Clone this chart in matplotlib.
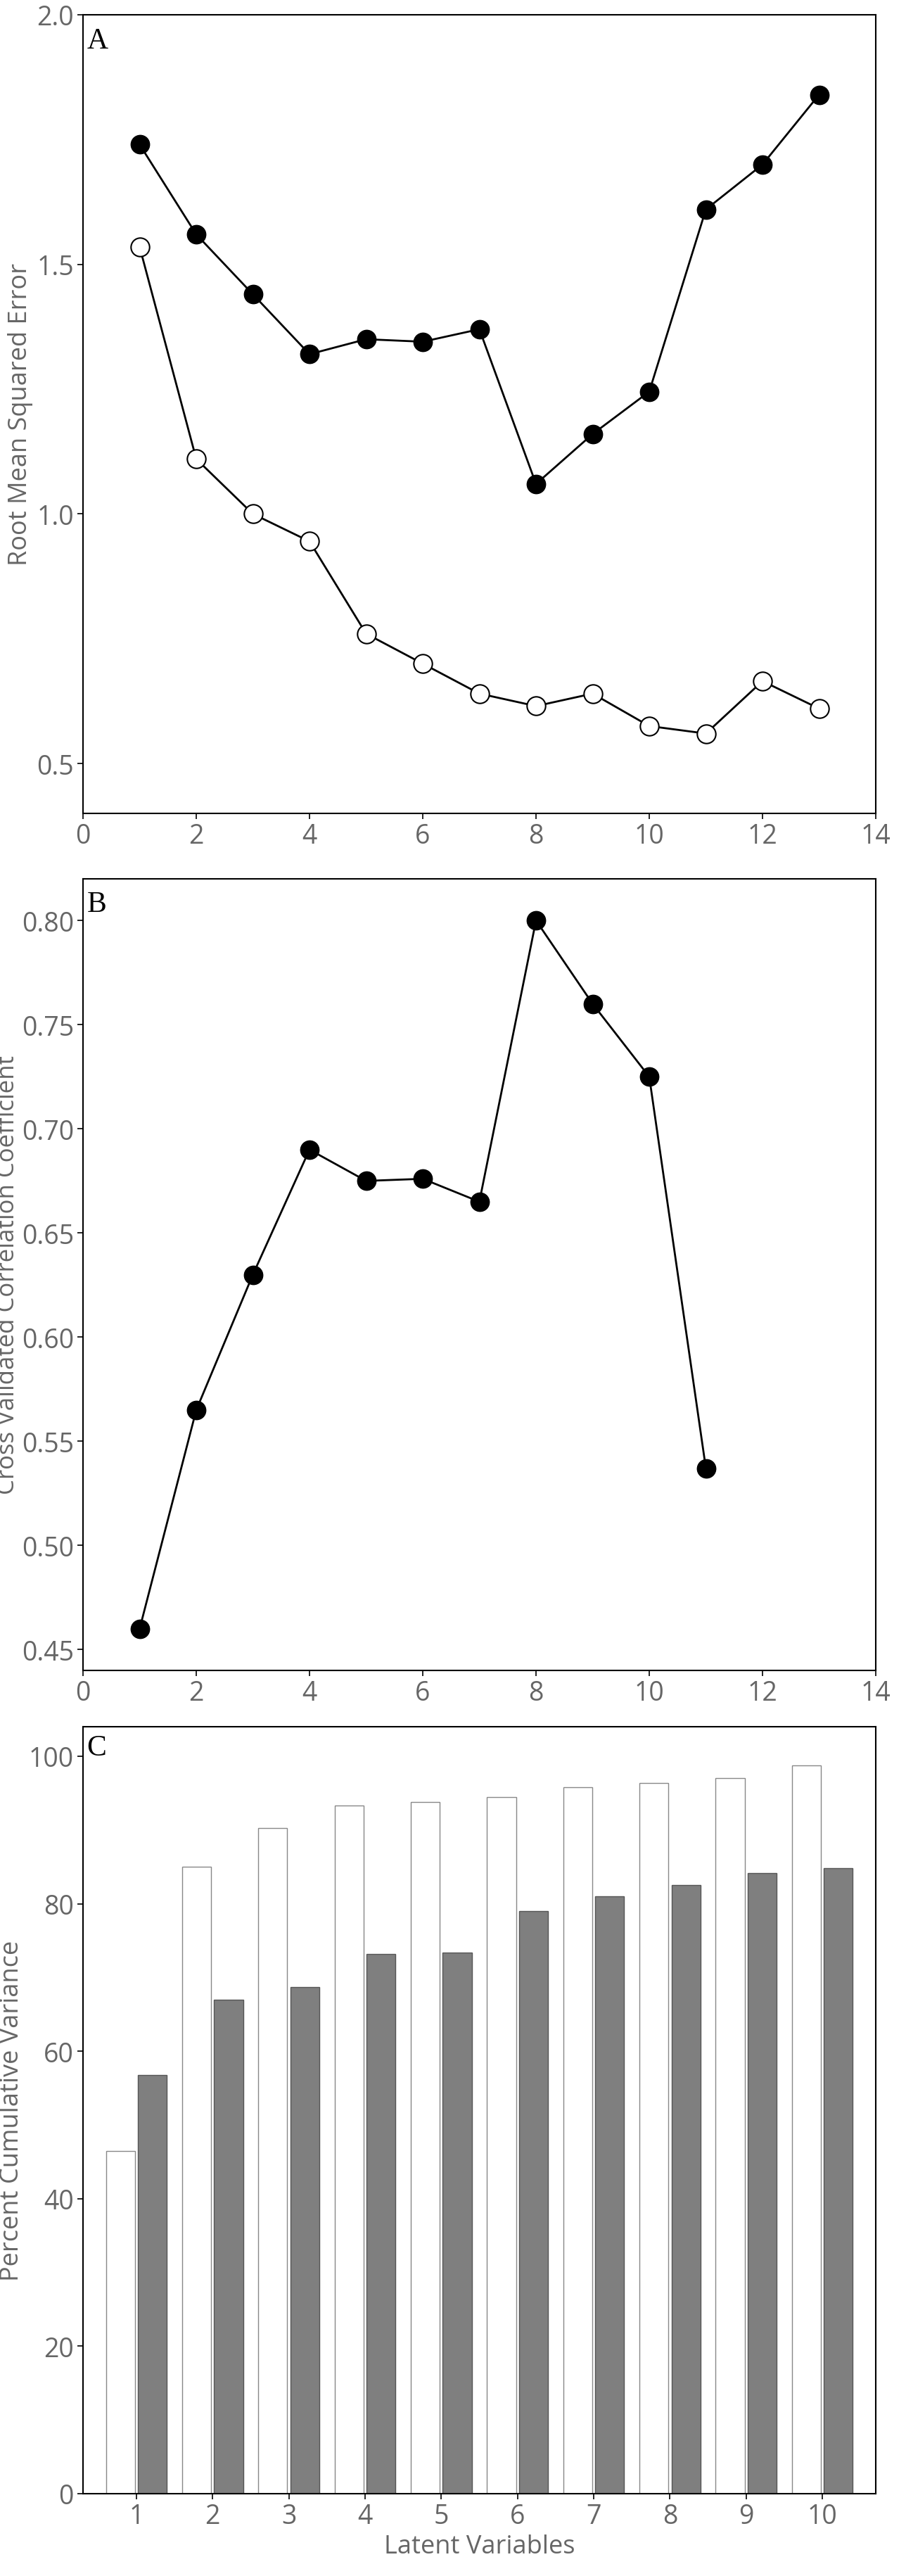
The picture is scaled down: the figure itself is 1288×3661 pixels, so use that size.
import matplotlib
matplotlib.use("Agg")
import matplotlib.pyplot as plt
import numpy as np

lv_a = np.arange(1, 14)
rmse_filled = [1.74, 1.56, 1.44, 1.32, 1.35, 1.345, 1.37, 1.06, 1.16, 1.245, 1.61, 1.70, 1.84]
rmse_open = [1.535, 1.11, 1.0, 0.945, 0.76, 0.70, 0.64, 0.615, 0.64, 0.575, 0.56, 0.665, 0.61]
lv_b = np.arange(1, 12)
corr = [0.46, 0.565, 0.63, 0.69, 0.675, 0.676, 0.665, 0.80, 0.76, 0.725, 0.537]
lv_c = np.arange(1, 11)
var_white = [46.5, 85, 90.3, 93.3, 93.8, 94.5, 95.8, 96.4, 97, 98.8]
var_gray = [56.8, 67, 68.7, 73.2, 73.4, 79, 81, 82.5, 84.2, 84.8]

plt.rcParams['font.family'] = ['Open Sans', 'DejaVu Sans']
gray = '#666666'
fig = plt.figure(figsize=(12.88, 36.62), dpi=100)
W, H = 1288, 3662
def ax_at(l, t, r, b):
    return fig.add_axes([l / W, 1 - b / H, (r - l) / W, (b - t) / H])

axA = ax_at(118, 22, 1245, 1157)
axB = ax_at(118, 1250, 1245, 2375)
axC = ax_at(118, 2455, 1245, 3545)

def style(ax):
    ax.tick_params(labelsize=27, labelcolor=gray, color='black', length=6, width=1.2)
    for s in ax.spines.values():
        s.set_linewidth(1.5)

axA.plot(lv_a, rmse_filled, '-o', color='black', ms=19, lw=2, mfc='black')
axA.plot(lv_a, rmse_open, '-o', color='black', ms=19, lw=2, mfc='white', mew=1.5)
axA.set_xlim(0, 14); axA.set_ylim(0.4, 2.0)
axA.set_xticks(range(0, 15, 2)); axA.set_yticks([0.5, 1.0, 1.5, 2.0])
axA.set_ylabel('Root Mean Squared Error', fontsize=26, color=gray, labelpad=4)
axA.text(0.005, 0.985, 'A', transform=axA.transAxes, fontsize=30, family='Liberation Serif', va='top')
style(axA)

axB.plot(lv_b, corr, '-o', color='black', ms=19, lw=2)
axB.set_xlim(0, 14); axB.set_ylim(0.44, 0.82)
axB.set_xticks(range(0, 15, 2)); axB.set_yticks(np.arange(0.45, 0.81, 0.05))
axB.set_yticklabels([f'{v:.2f}' for v in np.arange(0.45, 0.81, 0.05)])
axB.set_ylabel('Cross Validated Correlation Coefficient', fontsize=25, color=gray, labelpad=2)
axB.text(0.005, 0.985, 'B', transform=axB.transAxes, fontsize=30, family='Liberation Serif', va='top')
style(axB)

bw = 0.38
axC.bar(lv_c - bw / 2 - 0.02, var_white, bw, color='white', edgecolor='#888888', lw=1)
axC.bar(lv_c + bw / 2 + 0.02, var_gray, bw, color='#7f7f7f', edgecolor='#555555', lw=1)
axC.set_xlim(0.3, 10.7); axC.set_ylim(0, 104)
axC.set_xticks(lv_c); axC.set_yticks(range(0, 101, 20))
axC.set_ylabel('Percent Cumulative Variance', fontsize=26, color=gray, labelpad=4)
axC.set_xlabel('Latent Variables', fontsize=26, color=gray)
axC.text(0.005, 0.99, 'C', transform=axC.transAxes, fontsize=30, family='Liberation Serif', va='top')
style(axC)

fig.savefig('out.png', dpi=100)
